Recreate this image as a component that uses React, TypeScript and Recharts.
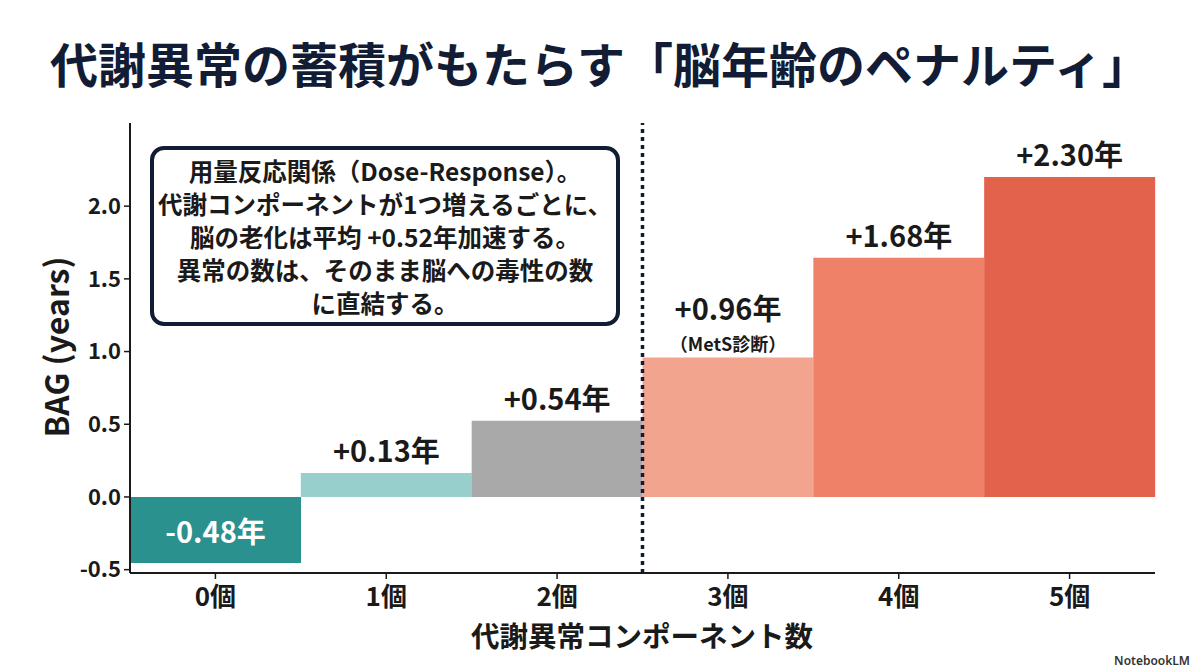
import { BarChart, Bar, XAxis, YAxis, Cell, LabelList, ReferenceLine } from 'recharts'

const CATEGORIES = ['0個', '1個', '2個', '3個', '4個', '5個']
// bar heights as drawn in the picture (years)
const BAG_VALUES = [-0.455, 0.165, 0.525, 0.96, 1.645, 2.2]
const VALUE_LABELS = ['-0.48年', '+0.13年', '+0.54年', '+0.96年', '+1.68年', '+2.30年']
const SUB_LABELS = ['', '', '', '（MetS診断）', '', '']
const BAR_COLORS = ['#2a918e', '#97cfcc', '#a9a9a9', '#f3a48f', '#ee8168', '#e3624b']
const Y_TICKS = [-0.5, 0, 0.5, 1, 1.5, 2]

const TITLE = '代謝異常の蓄積がもたらす「脳年齢のペナルティ」'
const NOTE_LINES = [
  '用量反応関係（Dose-Response）。',
  '代謝コンポーネントが1つ増えるごとに、',
  '脳の老化は平均 +0.52年加速する。',
  '異常の数は、そのまま脳への毒性の数',
  'に直結する。',
]

const FONT = '"Noto Sans CJK JP", "Noto Sans", sans-serif'
const NAVY = '#121c35'
const INK = '#1a1a1a'

const data = CATEGORIES.map((name, i) => ({
  name,
  bag: BAG_VALUES[i],
  label: VALUE_LABELS[i],
}))

function BarLabel(props: any) {
  const { x, y, width, height, index, value } = props
  const top = Math.min(y, y + height)
  const bottom = Math.max(y, y + height)
  const cx = x + width / 2
  if (BAG_VALUES[index] < 0) {
    return (
      <text x={cx} y={(top + bottom) / 2} textAnchor="middle" dominantBaseline="central"
            fill="#fff" fontSize={29} fontWeight={700} fontFamily={FONT}>{value}</text>
    )
  }
  const sub = SUB_LABELS[index]
  return (
    <g>
      <text x={cx} y={top - (sub ? 37 : 11)} textAnchor="middle"
            fill={INK} fontSize={29} fontWeight={700} fontFamily={FONT}>{value}</text>
      {sub && (
        <text x={cx} y={top - 6} textAnchor="middle"
              fill={INK} fontSize={18} fontWeight={700} fontFamily={FONT}>{sub}</text>
      )}
    </g>
  )
}

export default function App() {
  return (
    <div style={{ position: 'fixed', left: 0, top: 0, width: 1200, height: 670,
                  background: '#fff', fontFamily: FONT }}>
      <div style={{ position: 'absolute', left: 0, top: 38, width: 1200, textAlign: 'center',
                    fontSize: 48, fontWeight: 700, lineHeight: 1, color: NAVY, whiteSpace: 'nowrap' }}>
        {TITLE}
      </div>

      <BarChart width={1200} height={670} data={data}
                margin={{ top: 123, right: 45, bottom: 57, left: 50 }}
                barCategoryGap={0} barGap={0}>
        <XAxis dataKey="name" height={40} interval={0}
               axisLine={{ stroke: INK, strokeWidth: 2 }}
               tickLine={{ stroke: INK, strokeWidth: 1.5 }} tickSize={6} tickMargin={9}
               tick={{ fill: INK, fontSize: 26, fontWeight: 700, fontFamily: FONT }} />
        <YAxis width={80} domain={[-0.523, 2.572]} ticks={Y_TICKS} allowDataOverflow
               tickFormatter={(v: number) => v.toFixed(1)}
               axisLine={{ stroke: INK, strokeWidth: 2 }}
               tickLine={{ stroke: INK, strokeWidth: 1.5 }} tickSize={6} tickMargin={3}
               tick={{ fill: INK, fontSize: 22, fontWeight: 700, fontFamily: FONT }} />
        <Bar dataKey="bag" isAnimationActive={false}>
          {data.map((d, i) => <Cell key={d.name} fill={BAR_COLORS[i]} />)}
          <LabelList dataKey="label" content={BarLabel} />
        </Bar>
        <ReferenceLine x="3個" position="start" stroke={NAVY} strokeWidth={3.5}
                       strokeDasharray="4 4" />
      </BarChart>

      <div style={{ position: 'absolute', left: 150, top: 146, width: 470, height: 180,
                    boxSizing: 'border-box', border: `4px solid ${NAVY}`, borderRadius: 14,
                    background: '#fff', display: 'flex', flexDirection: 'column',
                    justifyContent: 'center', alignItems: 'center',
                    fontSize: 24.5, lineHeight: '33px', fontWeight: 700, color: INK }}>
        {NOTE_LINES.map(l => <div key={l} style={{ whiteSpace: 'nowrap' }}>{l}</div>)}
      </div>

      <div style={{ position: 'absolute', left: 55, top: 347, transform: 'translate(-50%, -50%) rotate(-90deg)',
                    fontSize: 32, fontWeight: 700, color: INK, whiteSpace: 'nowrap', lineHeight: 1 }}>
        BAG (years)
      </div>

      <div style={{ position: 'absolute', left: 642, top: 635, transform: 'translate(-50%, -50%)',
                    fontSize: 28.5, fontWeight: 700, color: INK, whiteSpace: 'nowrap', lineHeight: 1 }}>
        代謝異常コンポーネント数
      </div>

      <div style={{ position: 'absolute', right: 10, top: 652, fontSize: 12, color: '#333',
                    fontFamily: '"Noto Sans", sans-serif', fontWeight: 600 }}>
        NotebookLM
      </div>
    </div>
  )
}
